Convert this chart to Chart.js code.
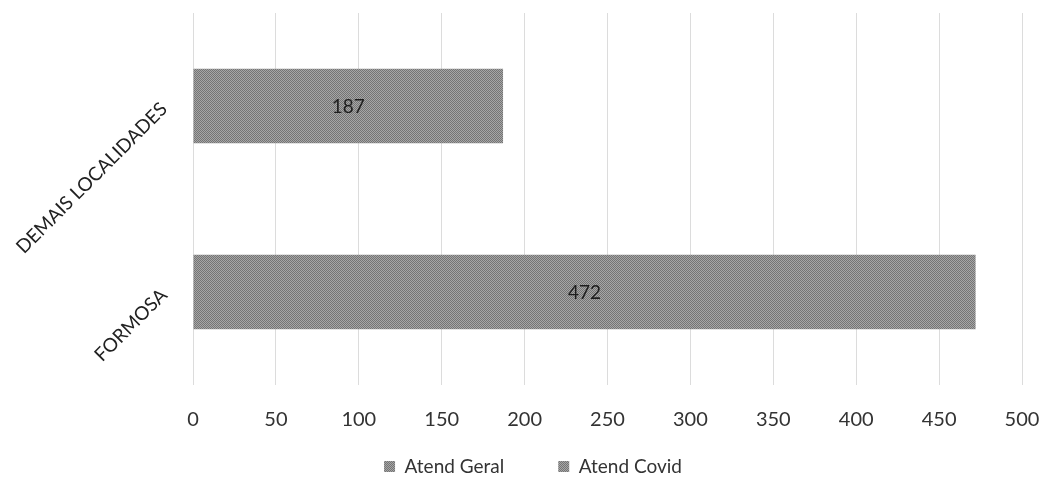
<!DOCTYPE html>
<html>
<head>
<meta charset="utf-8">
<script src="https://cdn.jsdelivr.net/npm/chart.js@4"></script>
<style>
  body { margin: 0; background: #fff; }
  #wrap { width: 1046px; height: 477px; }
</style>
</head>
<body>
<div id="wrap"><canvas id="chart" width="1046" height="477"></canvas></div>
<script>
// categories top to bottom, as in the picture
const CATEGORIES = ["DEMAIS LOCALIDADES", "FORMOSA"];
const SERIES_NAMES = ["Atend Geral", "Atend Covid"];
const ATEND_GERAL = [187, 472];
const ATEND_COVID = [0, 0];
const X_MAX = 500;
const X_STEP = 50;

const FONT = "Lato, 'Open Sans', sans-serif";

// scanned-looking grey fill: small two-tone checker pattern
function greyPattern() {
  const c = document.createElement("canvas");
  c.width = 2;
  c.height = 2;
  const g = c.getContext("2d");
  g.fillStyle = "#a6a6a6";
  g.fillRect(0, 0, 2, 2);
  g.fillStyle = "#747474";
  g.fillRect(0, 0, 1, 1);
  g.fillRect(1, 1, 1, 1);
  return g.createPattern(c, "repeat");
}

const fill = greyPattern();

// value labels centred in each bar
const barLabels = {
  id: "barLabels",
  afterDatasetsDraw(chart) {
    const ctx = chart.ctx;
    ctx.save();
    ctx.font = "19px " + FONT;
    ctx.fillStyle = "#1e1e1e";
    ctx.textAlign = "center";
    ctx.textBaseline = "middle";
    chart.data.datasets.forEach((ds, i) => {
      const meta = chart.getDatasetMeta(i);
      meta.data.forEach((bar, j) => {
        const v = ds.data[j];
        if (!v) return;
        const p = bar.getProps(["x", "y", "base"], true);
        ctx.fillText(String(v), (p.x + p.base) / 2, p.y + 1);
      });
    });
    ctx.restore();
  },
};

// the legend needs a wide gap between items (labels.padding) but that same
// padding also pushes it up; report a slightly shorter box to the layout
const legendTrim = {
  id: "legendTrim",
  afterInit(chart) {
    const legend = chart.legend;
    const fit = legend.fit.bind(legend);
    legend.fit = function () {
      fit();
      this.height = Math.max(this.height - 9, 0);
    };
  },
};

new Chart(document.getElementById("chart"), {
  type: "bar",
  data: {
    labels: CATEGORIES,
    datasets: [
      { label: SERIES_NAMES[0], data: ATEND_GERAL, backgroundColor: fill },
      { label: SERIES_NAMES[1], data: ATEND_COVID, backgroundColor: fill },
    ],
  },
  options: {
    indexAxis: "y",
    responsive: false,
    animation: false,
    datasets: { bar: { categoryPercentage: 0.4, barPercentage: 1 } },
    layout: { padding: { top: 13, right: 24, left: 44, bottom: 0 } },
    scales: {
      x: {
        stacked: true,
        min: 0,
        max: X_MAX,
        ticks: {
          stepSize: X_STEP,
          padding: 23,
          color: "#333",
          font: { family: FONT, size: 20 },
        },
        grid: { color: "#dcdcdc", drawTicks: false },
        border: { display: false },
        afterFit(scale) {
          scale.height = 18;
          scale.paddingRight = 0;
          scale.paddingLeft = 0;
          // labels sit below the shortened box, so don't clip them to it
          scale._computeLabelArea = () => undefined;
        },
      },
      y: {
        stacked: true,
        ticks: {
          minRotation: 45,
          maxRotation: 45,
          padding: 21,
          color: "#222",
          font: { family: FONT, size: 19 },
        },
        grid: { display: false },
        border: { display: false },
        afterFit(scale) {
          scale.width = 149;
          scale.paddingTop = 0;
          scale.paddingBottom = 0;
        },
        afterUpdate(scale) {
          scale._computeLabelArea = () => undefined;
        },
      },
    },
    plugins: {
      legend: {
        position: "bottom",
        labels: {
          boxWidth: 11,
          boxHeight: 11,
          padding: 54,
          color: "#333",
          font: { family: FONT, size: 19 },
        },
      },
      tooltip: { enabled: false },
    },
  },
  plugins: [barLabels, legendTrim],
});
</script>
</body>
</html>
